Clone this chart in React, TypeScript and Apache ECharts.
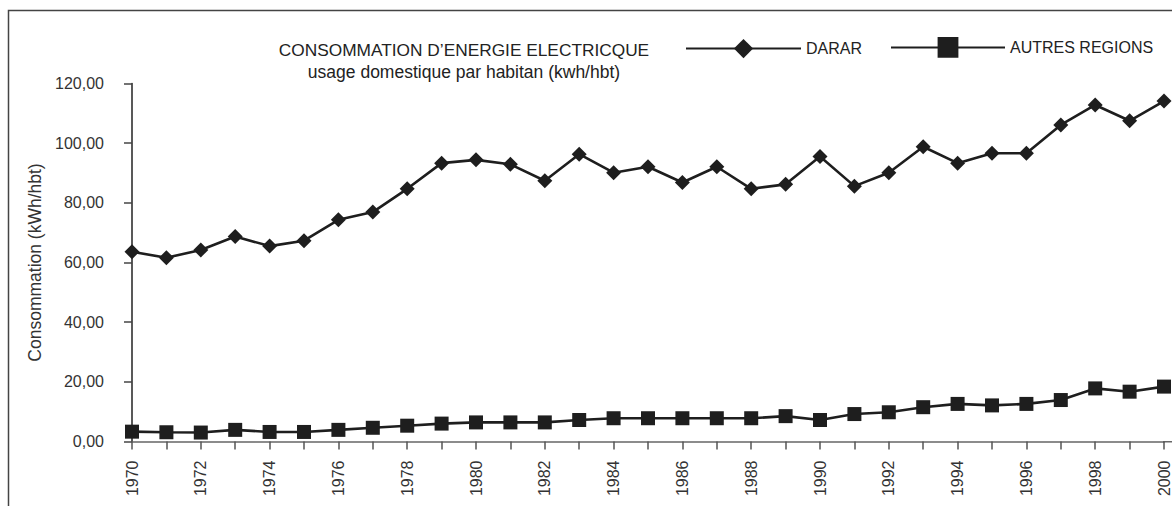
import React, { useEffect, useRef } from "react";
import * as echarts from "echarts";

const years: string[] = [
  "1970", "1971", "1972", "1973", "1974", "1975", "1976", "1977", "1978", "1979",
  "1980", "1981", "1982", "1983", "1984", "1985", "1986", "1987", "1988", "1989",
  "1990", "1991", "1992", "1993", "1994", "1995", "1996", "1997", "1998", "1999", "2000",
];

const dararValues: number[] = [
  63.6, 61.6, 64.2, 68.7, 65.5, 67.3, 74.3, 76.9, 84.7, 93.3,
  94.4, 92.9, 87.4, 96.3, 90.1, 92.1, 86.8, 92.1, 84.7, 86.2,
  95.5, 85.6, 90.1, 98.8, 93.3, 96.6, 96.6, 106.1, 112.8, 107.5, 114.1,
];

const autresValues: number[] = [
  3.3, 3.1, 3.0, 3.9, 3.2, 3.2, 3.9, 4.6, 5.3, 6.0,
  6.4, 6.4, 6.4, 7.2, 7.8, 7.8, 7.8, 7.8, 7.8, 8.5,
  7.2, 9.2, 9.8, 11.5, 12.6, 12.1, 12.6, 13.9, 17.8, 16.7, 18.4,
];

const seriesNames = ["DARAR", "AUTRES REGIONS"];
const titleText = "CONSOMMATION D\u2019ENERGIE ELECTRICQUE";
const subtitleText = "usage domestique par habitan (kwh/hbt)";
const yAxisName = "Consommation (kWh/hbt)";

const FONT = "'Liberation Sans', Arial, sans-serif";
const INK = "#1e1e1e";

export default function App() {
  const ref = useRef<HTMLDivElement>(null);

  useEffect(() => {
    if (!ref.current) return;
    const chart = echarts.init(ref.current, null, { renderer: "svg" });
    chart.setOption({
      animation: false,
      backgroundColor: "#ffffff",
      textStyle: { fontFamily: FONT },
      title: {
        text: titleText,
        subtext: subtitleText,
        left: 464,
        top: 41,
        textAlign: "center",
        padding: 0,
        itemGap: 5,
        textStyle: { fontSize: 17.3, fontWeight: "normal", color: "#222", fontFamily: FONT },
        subtextStyle: { fontSize: 17.5, color: "#222", fontFamily: FONT },
      },
      legend: [
        {
          data: [seriesNames[0]],
          left: 685,
          top: 39,
          padding: 0,
          itemWidth: 115,
          itemHeight: 24,
          textStyle: { fontSize: 16, color: "#222", fontFamily: FONT },
        },
        {
          data: [seriesNames[1]],
          left: 890,
          top: 37,
          padding: 0,
          itemWidth: 114,
          itemHeight: 26,
          textStyle: { fontSize: 16, color: "#222", fontFamily: FONT },
        },
      ],
      grid: { left: 132, right: 8, top: 83.5, bottom: 64.5, containLabel: false },
      xAxis: {
        type: "category",
        data: years,
        boundaryGap: false,
        axisLine: { lineStyle: { color: "#666", width: 1.5 } },
        axisTick: { show: true, interval: 0, length: 8, lineStyle: { color: "#555", width: 1.5 } },
        axisLabel: {
          interval: 1,
          rotate: 90,
          margin: 19,
          fontSize: 16,
          color: "#333",
          fontFamily: FONT,
        },
        splitLine: { show: false },
      },
      yAxis: {
        type: "value",
        min: 0,
        max: 120,
        interval: 20,
        name: yAxisName,
        nameLocation: "middle",
        nameGap: 88,
        nameMoveOverlap: false,
        nameTextStyle: { fontSize: 17.5, color: "#333", fontFamily: FONT },
        axisLine: { show: true, lineStyle: { color: "#222", width: 1.5 } },
        axisTick: { show: true, length: 8, lineStyle: { color: "#444", width: 1.5 } },
        axisLabel: {
          margin: 28,
          fontSize: 16,
          color: "#333",
          fontFamily: FONT,
          formatter: (v: number) => v.toFixed(2).replace(".", ","),
        },
        splitLine: { show: false },
      },
      series: [
        {
          name: seriesNames[0],
          type: "line",
          data: dararValues,
          symbol: "diamond",
          symbolSize: 15,
          showAllSymbol: true,
          itemStyle: { color: INK },
          lineStyle: { color: INK, width: 2.6 },
        },
        {
          name: seriesNames[1],
          type: "line",
          data: autresValues,
          symbol: "rect",
          symbolSize: 14,
          showAllSymbol: true,
          itemStyle: { color: INK },
          lineStyle: { color: INK, width: 2.6 },
        },
      ],
      graphic: [
        {
          type: "polyline",
          silent: true,
          shape: { points: [[8.5, 506], [8.5, 10.5], [1172, 10.5]] },
          style: { stroke: "#444", lineWidth: 1.5, fill: "none" },
        },
        {
          type: "line",
          silent: true,
          shape: { x1: 1163, y1: 441.75, x2: 1172, y2: 441.75 },
          style: { stroke: "#666", lineWidth: 1.5 },
        },
      ],
    });
    return () => chart.dispose();
  }, []);

  return (
    <div
      ref={ref}
      style={{ position: "absolute", left: 0, top: 0, width: 1172, height: 506 }}
    />
  );
}
